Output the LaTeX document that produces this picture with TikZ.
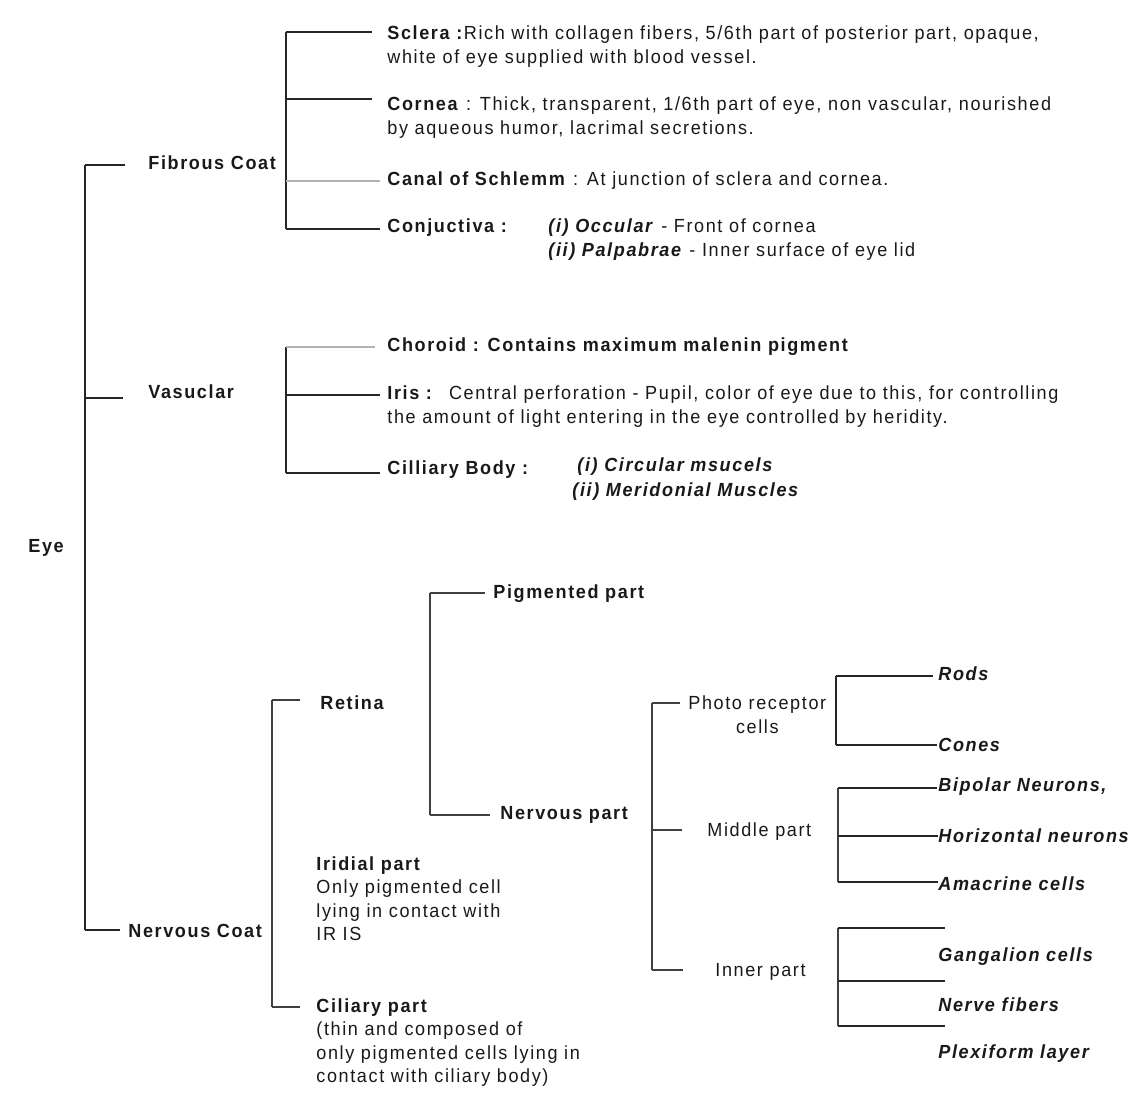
\documentclass[tikz,border=0pt]{standalone}
\usepackage{fontspec}
\setmainfont{Liberation Sans}[LetterSpace=8.5, FakeStretch=0.95]
\begin{document}
\begin{tikzpicture}[x=0.5pt,y=-0.5pt,
  ln/.style={line width=1.1pt, draw=black!85},
  lg/.style={line width=1.1pt, draw=black!30},
  lt/.style={line width=0.9pt, draw=black!75},
  tx/.style={anchor=west, inner sep=0pt, align=left, text=black!90,
             font=\fontsize{9.5}{11.75}\selectfont},
  hd/.style={tx, font=\fontsize{9.5}{11.75}\selectfont\bfseries},
  bi/.style={tx, font=\fontsize{9.5}{11.75}\selectfont\bfseries\itshape}]
\useasboundingbox (0,0) rectangle (1148,1098);

% ---- level 1 ----
\node[hd] (eye) at (28,548) {Eye};
\node[hd] (fib) at (148,163) {Fibrous Coat};
\node[hd] (vas) at (148,392) {Vasuclar};
\node[hd] (nc)  at (128,931) {Nervous Coat};
\coordinate (m1) at (85,165);
\coordinate (m2) at (85,398);
\coordinate (m3) at (85,930);
\draw[ln] (m1) -- (m3);
\draw[ln, shorten >=11.5pt] (m1) -- (m1 -| fib.west);
\draw[ln, shorten >=12.5pt] (m2) -- (m2 -| vas.west);
\draw[ln, shorten >=4pt]    (m3) -- (m3 -| nc.west);

% ---- fibrous coat ----
\node[tx] (scl) at (387,46.5) {\textbf{Sclera :}Rich with collagen fibers, 5/6th part of posterior part, opaque,\\white of eye supplied with blood vessel.};
\node[tx] (cor) at (387,117.5) {\textbf{Cornea} : Thick, transparent, 1/6th part of eye, non vascular, nourished\\by aqueous humor, lacrimal secretions.};
\node[tx] (can) at (387,181) {\textbf{Canal of Schlemm} : At junction of sclera and cornea.};
\node[hd] (con) at (387,228) {Conjuctiva :};
\node[tx] (conv) at (548,239.5) {\textbf{\itshape(i) Occular} - Front of cornea\\\textbf{\itshape(ii) Palpabrae} - Inner surface of eye lid};
\coordinate (fA) at (286,32);
\coordinate (fB) at (286,99);
\coordinate (fC) at (286,181);
\coordinate (fD) at (286,229);
\draw[ln] (fA) -- (fD);
\draw[ln, shorten >=7.5pt] (fA) -- (fA -| scl.west);
\draw[ln, shorten >=7.5pt] (fB) -- (fB -| cor.west);
\draw[lg, shorten >=3.5pt] (fC) -- (fC -| can.west);
\draw[ln, shorten >=3.5pt] (fD) -- (fD -| con.west);

% ---- vascular ----
\node[hd] (cho) at (387,347) {Choroid : Contains maximum malenin pigment};
\node[tx] (iri) at (387,406.5) {\textbf{Iris :} \ Central perforation - Pupil, color of eye due to this, for controlling\\the amount of light entering in the eye controlled by heridity.};
\node[hd] (cil) at (387,470) {Cilliary Body :};
\node[bi] (cil1) at (577,467) {(i) Circular msucels};
\node[bi] (cil2) at (572,492) {(ii) Meridonial Muscles};
\coordinate (vA) at (286,347);
\coordinate (vB) at (286,395);
\coordinate (vC) at (286,473);
\draw[ln] (vA) -- (vC);
\draw[lg, shorten >=6pt]   (vA) -- (vA -| cho.west);
\draw[ln, shorten >=3.5pt] (vB) -- (vB -| iri.west);
\draw[ln, shorten >=3.5pt] (vC) -- (vC -| cil.west);

% ---- nervous coat ----
\node[hd] (ret) at (320,703) {Retina};
\node[tx] (irid) at (316,898.5) {\textbf{Iridial part}\\Only pigmented cell\\lying in contact with\\IR IS};
\node[tx] (cilp) at (316,1042.5) {\textbf{Ciliary part}\\(thin and composed of\\only pigmented cells lying in\\contact with ciliary body)};
\coordinate (nA) at (272,700);
\coordinate (nB) at (272,1007);
\draw[lt] (nA) -- (nB);
\draw[lt, shorten >=10pt] (nA) -- (nA -| ret.west);
\draw[lt, shorten >=8pt]  (nB) -- (nB -| cilp.west);

% ---- retina ----
\node[hd] (pig) at (493,594) {Pigmented part};
\node[hd] (nerv) at (500,815) {Nervous part};
\coordinate (rA) at (430,593);
\coordinate (rB) at (430,815);
\draw[lt] (rA) -- (rB);
\draw[lt, shorten >=4pt] (rA) -- (rA -| pig.west);
\draw[lt, shorten >=5pt] (rB) -- (rB -| nerv.west);

% ---- nervous part ----
\node[tx, align=center] (pho) at (688,714.5) {Photo receptor\\cells};
\node[tx] (mid) at (707,832) {Middle part};
\node[tx] (inn) at (715,972) {Inner part};
\coordinate (pA) at (652,703);
\coordinate (pB) at (652,830);
\coordinate (pC) at (652,970);
\draw[lt] (pA) -- (pC);
\draw[lt, shorten >=4pt]    (pA) -- (pA -| pho.west);
\draw[lt, shorten >=12.5pt] (pB) -- (pB -| mid.west);
\draw[lt, shorten >=16pt]   (pC) -- (pC -| inn.west);

% ---- photo receptor ----
\node[bi] (rod) at (938,674) {Rods};
\node[bi] (con2) at (938,745) {Cones};
\coordinate (qA) at (836,676);
\coordinate (qB) at (836,745);
\draw[ln] (qA) -- (qB);
\draw[ln, shorten >=2.5pt] (qA) -- (qA -| rod.west);
\draw[ln, shorten >=0.5pt] (qB) -- (qB -| con2.west);

% ---- middle part ----
\node[bi] (bip) at (938,787) {Bipolar Neurons,};
\node[bi] (hor) at (938,836) {Horizontal neurons};
\node[bi] (ama) at (938,884) {Amacrine cells};
\coordinate (sA) at (838,788);
\coordinate (sB) at (838,836);
\coordinate (sC) at (838,882);
\draw[lt] (sA) -- (sC);
\draw[ln, shorten >=0.5pt] (sA) -- (sA -| bip.west);
\draw[ln] (sB) -- (sB -| hor.west);
\draw[ln] (sC) -- (sC -| ama.west);

% ---- inner part ----
\node[bi] (gan) at (938,957) {Gangalion cells};
\node[bi] (nfb) at (938,1005) {Nerve fibers};
\node[bi] (plx) at (938,1054) {Plexiform layer};
\coordinate (uA) at (838,928);
\coordinate (uB) at (838,981);
\coordinate (uC) at (838,1026);
\draw[lt] (uA) -- (uC);
\draw[ln, shorten >=-3.5pt] (uA) -- (uA -| gan.west);
\draw[ln, shorten >=-3.5pt] (uB) -- (uB -| nfb.west);
\draw[ln, shorten >=-3.5pt] (uC) -- (uC -| plx.west);
\end{tikzpicture}
\end{document}
